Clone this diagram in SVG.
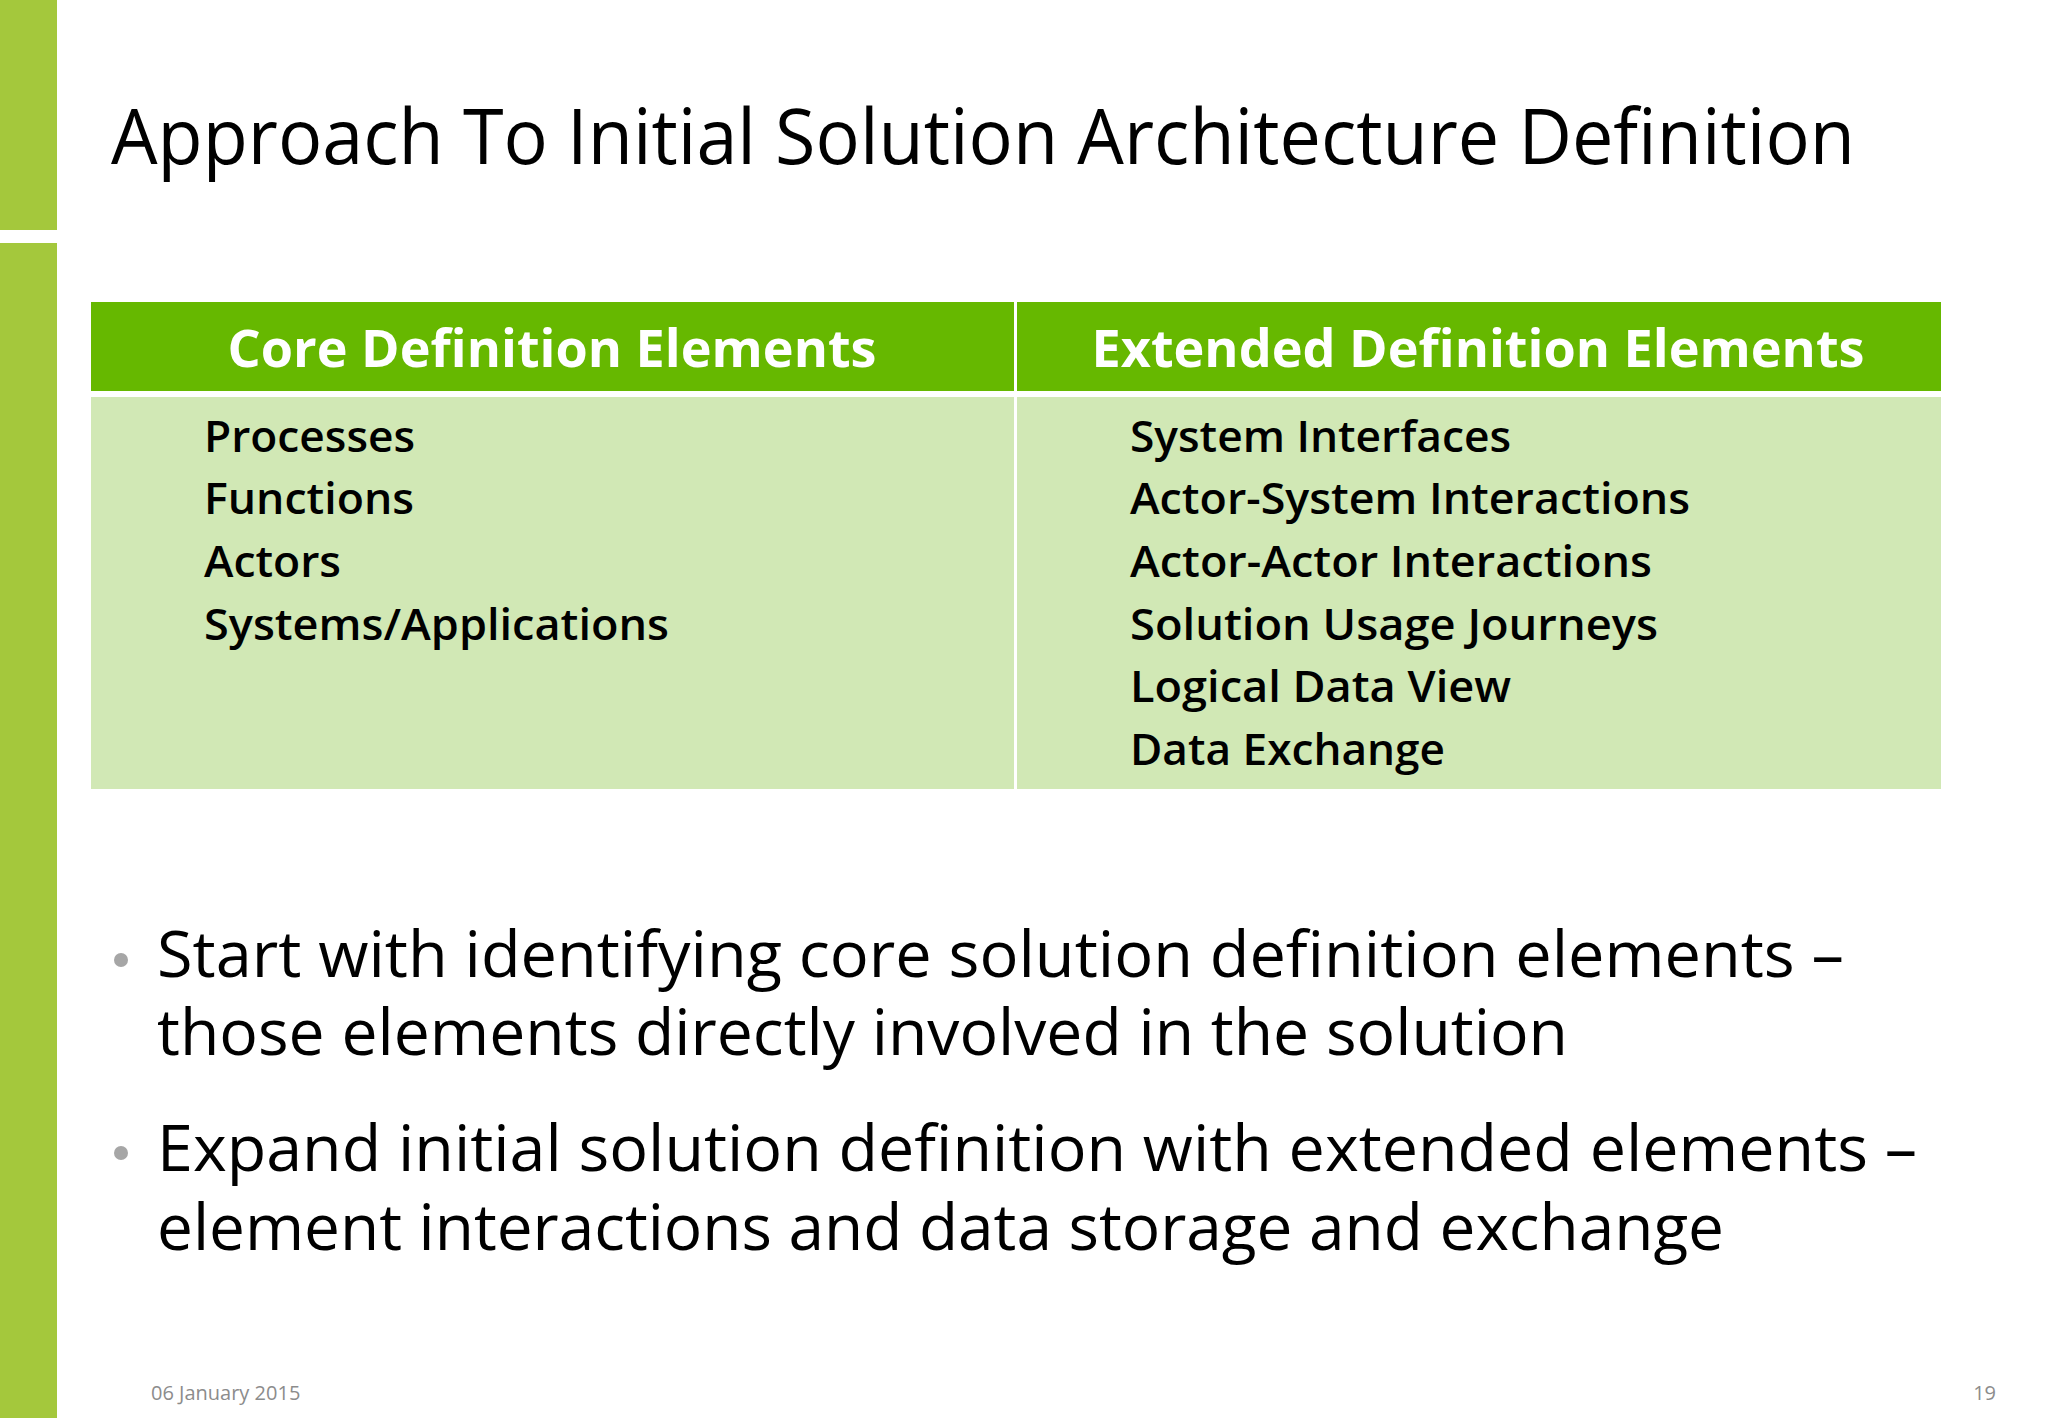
<svg xmlns="http://www.w3.org/2000/svg" width="2048" height="1418" viewBox="0 0 2048 1418">
<style>
text{font-family:"Open Sans","Noto Sans",sans-serif}
.h{font-size:52px;font-weight:bold;fill:#fff;text-anchor:middle}
.i{font-size:44px;font-weight:600;fill:#000}
.b{font-size:64px;fill:#000}
</style>
<rect width="2048" height="1418" fill="#fff"/>
<rect x="0" y="0" width="57" height="230" fill="#a4c83c"/>
<rect x="0" y="243" width="57" height="1175" fill="#a4c83c"/>
<text x="111" y="164" font-size="76" fill="#000" textLength="1744" lengthAdjust="spacingAndGlyphs">Approach To Initial Solution Architecture Definition</text>
<g id="table">
<rect x="91" y="302" width="923" height="89" fill="#66b800"/>
<rect x="1017" y="302" width="924" height="89" fill="#66b800"/>
<rect x="91" y="397" width="923" height="392" fill="#d1e8b5"/>
<rect x="1017" y="397" width="924" height="392" fill="#d1e8b5"/>
<text class="h" x="552" y="367" textLength="649" lengthAdjust="spacingAndGlyphs">Core Definition Elements</text>
<text class="h" x="1478" y="367" textLength="773" lengthAdjust="spacingAndGlyphs">Extended Definition Elements</text>
<text class="i" x="204" y="452" textLength="211" lengthAdjust="spacingAndGlyphs">Processes</text>
<text class="i" x="204" y="514" textLength="210" lengthAdjust="spacingAndGlyphs">Functions</text>
<text class="i" x="204" y="577" textLength="137" lengthAdjust="spacingAndGlyphs">Actors</text>
<text class="i" x="204" y="640" textLength="465" lengthAdjust="spacingAndGlyphs">Systems/Applications</text>
<text class="i" x="1130" y="452" textLength="381" lengthAdjust="spacingAndGlyphs">System Interfaces</text>
<text class="i" x="1130" y="514" textLength="560" lengthAdjust="spacingAndGlyphs">Actor-System Interactions</text>
<text class="i" x="1130" y="577" textLength="522" lengthAdjust="spacingAndGlyphs">Actor-Actor Interactions</text>
<text class="i" x="1130" y="640" textLength="528" lengthAdjust="spacingAndGlyphs">Solution Usage Journeys</text>
<text class="i" x="1130" y="702" textLength="381" lengthAdjust="spacingAndGlyphs">Logical Data View</text>
<text class="i" x="1130" y="765" textLength="315" lengthAdjust="spacingAndGlyphs">Data Exchange</text>
</g>
<circle cx="121" cy="960" r="7" fill="#a6a6a6"/>
<circle cx="121" cy="1153" r="7" fill="#a6a6a6"/>
<text class="b" x="157" y="977" textLength="1687" lengthAdjust="spacingAndGlyphs">Start with identifying core solution definition elements –</text>
<text class="b" x="157" y="1055" textLength="1411" lengthAdjust="spacingAndGlyphs">those elements directly involved in the solution</text>
<text class="b" x="157" y="1171" textLength="1760" lengthAdjust="spacingAndGlyphs">Expand initial solution definition with extended elements –</text>
<text class="b" x="157" y="1250" textLength="1567" lengthAdjust="spacingAndGlyphs">element interactions and data storage and exchange</text>
<text x="151" y="1400" font-size="20" fill="#8c8c8c">06 January 2015</text>
<text x="1996" y="1400" font-size="20" fill="#8c8c8c" text-anchor="end">19</text>
</svg>
